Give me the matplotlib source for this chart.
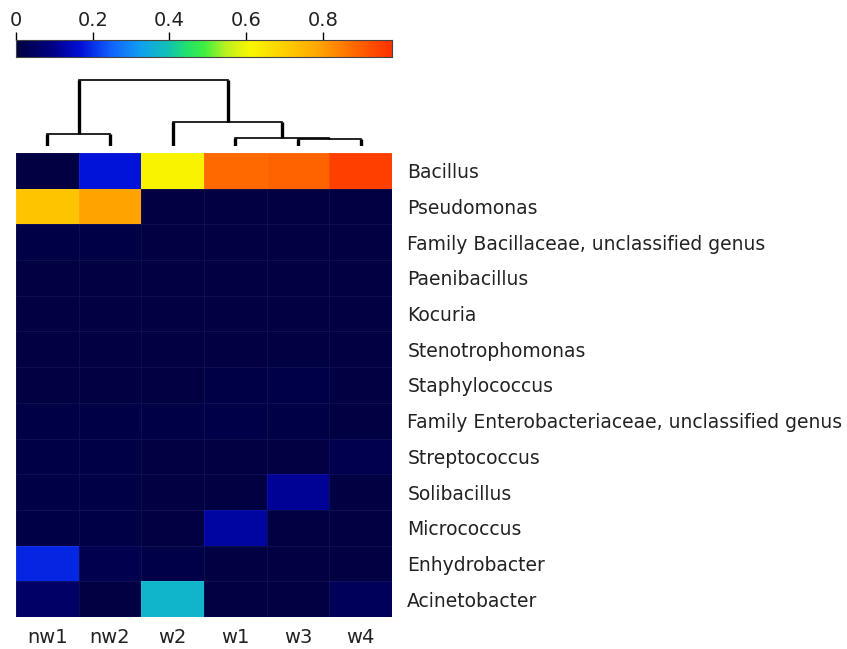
import matplotlib
matplotlib.use("Agg")
import matplotlib.pyplot as plt
import numpy as np
from matplotlib.colors import LinearSegmentedColormap

samples = ["nw1", "nw2", "w2", "w1", "w3", "w4"]
taxa = ["Bacillus", "Pseudomonas", "Family Bacillaceae, unclassified genus",
        "Paenibacillus", "Kocuria", "Stenotrophomonas", "Staphylococcus",
        "Family Enterobacteriaceae, unclassified genus", "Streptococcus",
        "Solibacillus", "Micrococcus", "Enhydrobacter", "Acinetobacter"]

# relative abundance, rows = taxa, columns = samples
values = np.array([
    [0.005, 0.17, 0.62, 0.88, 0.89, 0.95],
    [0.72, 0.79, 0.005, 0.005, 0.005, 0.005],
    [0.008, 0.008, 0.006, 0.006, 0.006, 0.006],
    [0.006, 0.006, 0.006, 0.006, 0.006, 0.006],
    [0.006, 0.006, 0.006, 0.006, 0.006, 0.006],
    [0.006, 0.006, 0.006, 0.006, 0.006, 0.006],
    [0.006, 0.006, 0.006, 0.008, 0.012, 0.006],
    [0.008, 0.008, 0.008, 0.015, 0.010, 0.006],
    [0.008, 0.008, 0.006, 0.004, 0.006, 0.020],
    [0.008, 0.008, 0.006, 0.004, 0.110, 0.004],
    [0.008, 0.008, 0.006, 0.120, 0.004, 0.004],
    [0.190, 0.020, 0.012, 0.004, 0.004, 0.004],
    [0.050, 0.006, 0.370, 0.004, 0.004, 0.035],
])
vmax = 0.98

# dendrogram of samples: (left, right, height); ids >= 6 are earlier merges
merges = [(4, 5, 0.10), (3, 6, 0.127), (0, 1, 0.186), (2, 7, 0.37), (8, 9, 1.0)]

cmap = LinearSegmentedColormap.from_list("abund", [
    (0.00, "#000040"), (0.10, "#00008a"), (0.17, "#0010d8"), (0.25, "#1060ff"),
    (0.33, "#10a0f0"), (0.40, "#10c0b8"), (0.45, "#20e070"), (0.50, "#40f040"),
    (0.56, "#c0f020"), (0.62, "#f8f800"), (0.72, "#ffcc00"), (0.80, "#ffa800"),
    (0.90, "#ff6800"), (1.00, "#ff3000")])

fig = plt.figure(figsize=(8.47, 6.49), dpi=100)
W, H = 847, 649

def ax_px(x0, y0, x1, y1):
    return fig.add_axes([x0 / W, 1 - y1 / H, (x1 - x0) / W, (y1 - y0) / H])

# heatmap
ax = ax_px(16, 153, 392, 617)
ax.pcolormesh(values, cmap=cmap, vmin=0, vmax=vmax,
              edgecolors=(1, 1, 1, 0.06), linewidth=0.5)
ax.set_xlim(0, len(samples))
ax.set_ylim(len(taxa), 0)
ax.yaxis.tick_right()
ax.set_yticks(np.arange(len(taxa)) + 0.5)
ax.set_yticklabels(taxa, fontsize=13.5, color="#222222")
ax.set_xticks(np.arange(len(samples)) + 0.5)
ax.set_xticklabels(samples, fontsize=14, color="#222222")
ax.tick_params(axis="x", length=0, pad=8)
ax.tick_params(axis="y", length=0, pad=11)
for s in ax.spines.values():
    s.set_visible(False)

# dendrogram
dax = ax_px(16, 78, 392, 146)
pos = {i: i + 0.5 for i in range(len(samples))}
hgt = {i: 0.0 for i in range(len(samples))}
for k, (a, b, h) in enumerate(merges):
    for n in (a, b):
        dax.plot([pos[n], pos[n]], [hgt[n], h], color="black", lw=2.4,
                 solid_capstyle="butt")
    dax.plot([pos[a], pos[b]], [h, h], color="black", lw=1.2)
    nid = len(samples) + k
    pos[nid] = (pos[a] + pos[b]) / 2
    hgt[nid] = h
dax.set_xlim(0, len(samples))
dax.set_ylim(0, 1.03)
dax.axis("off")

# colorbar
cax = ax_px(16, 40, 392, 57)
grad = np.linspace(0, vmax, 256)[None, :]
cax.imshow(grad, aspect="auto", cmap=cmap, vmin=0, vmax=vmax,
           extent=[0, vmax, 0, 1])
cax.set_xlim(0, vmax)
cax.set_yticks([])
cax.xaxis.tick_top()
cax.set_xticks([0, 0.2, 0.4, 0.6, 0.8])
cax.set_xticklabels(["0", "0.2", "0.4", "0.6", "0.8"], fontsize=14,
                    color="#222222")
cax.tick_params(axis="x", length=6, width=1, pad=1)
for s in cax.spines.values():
    s.set_color("#444444")
    s.set_linewidth(0.8)

fig.savefig("out.png", dpi=100)
